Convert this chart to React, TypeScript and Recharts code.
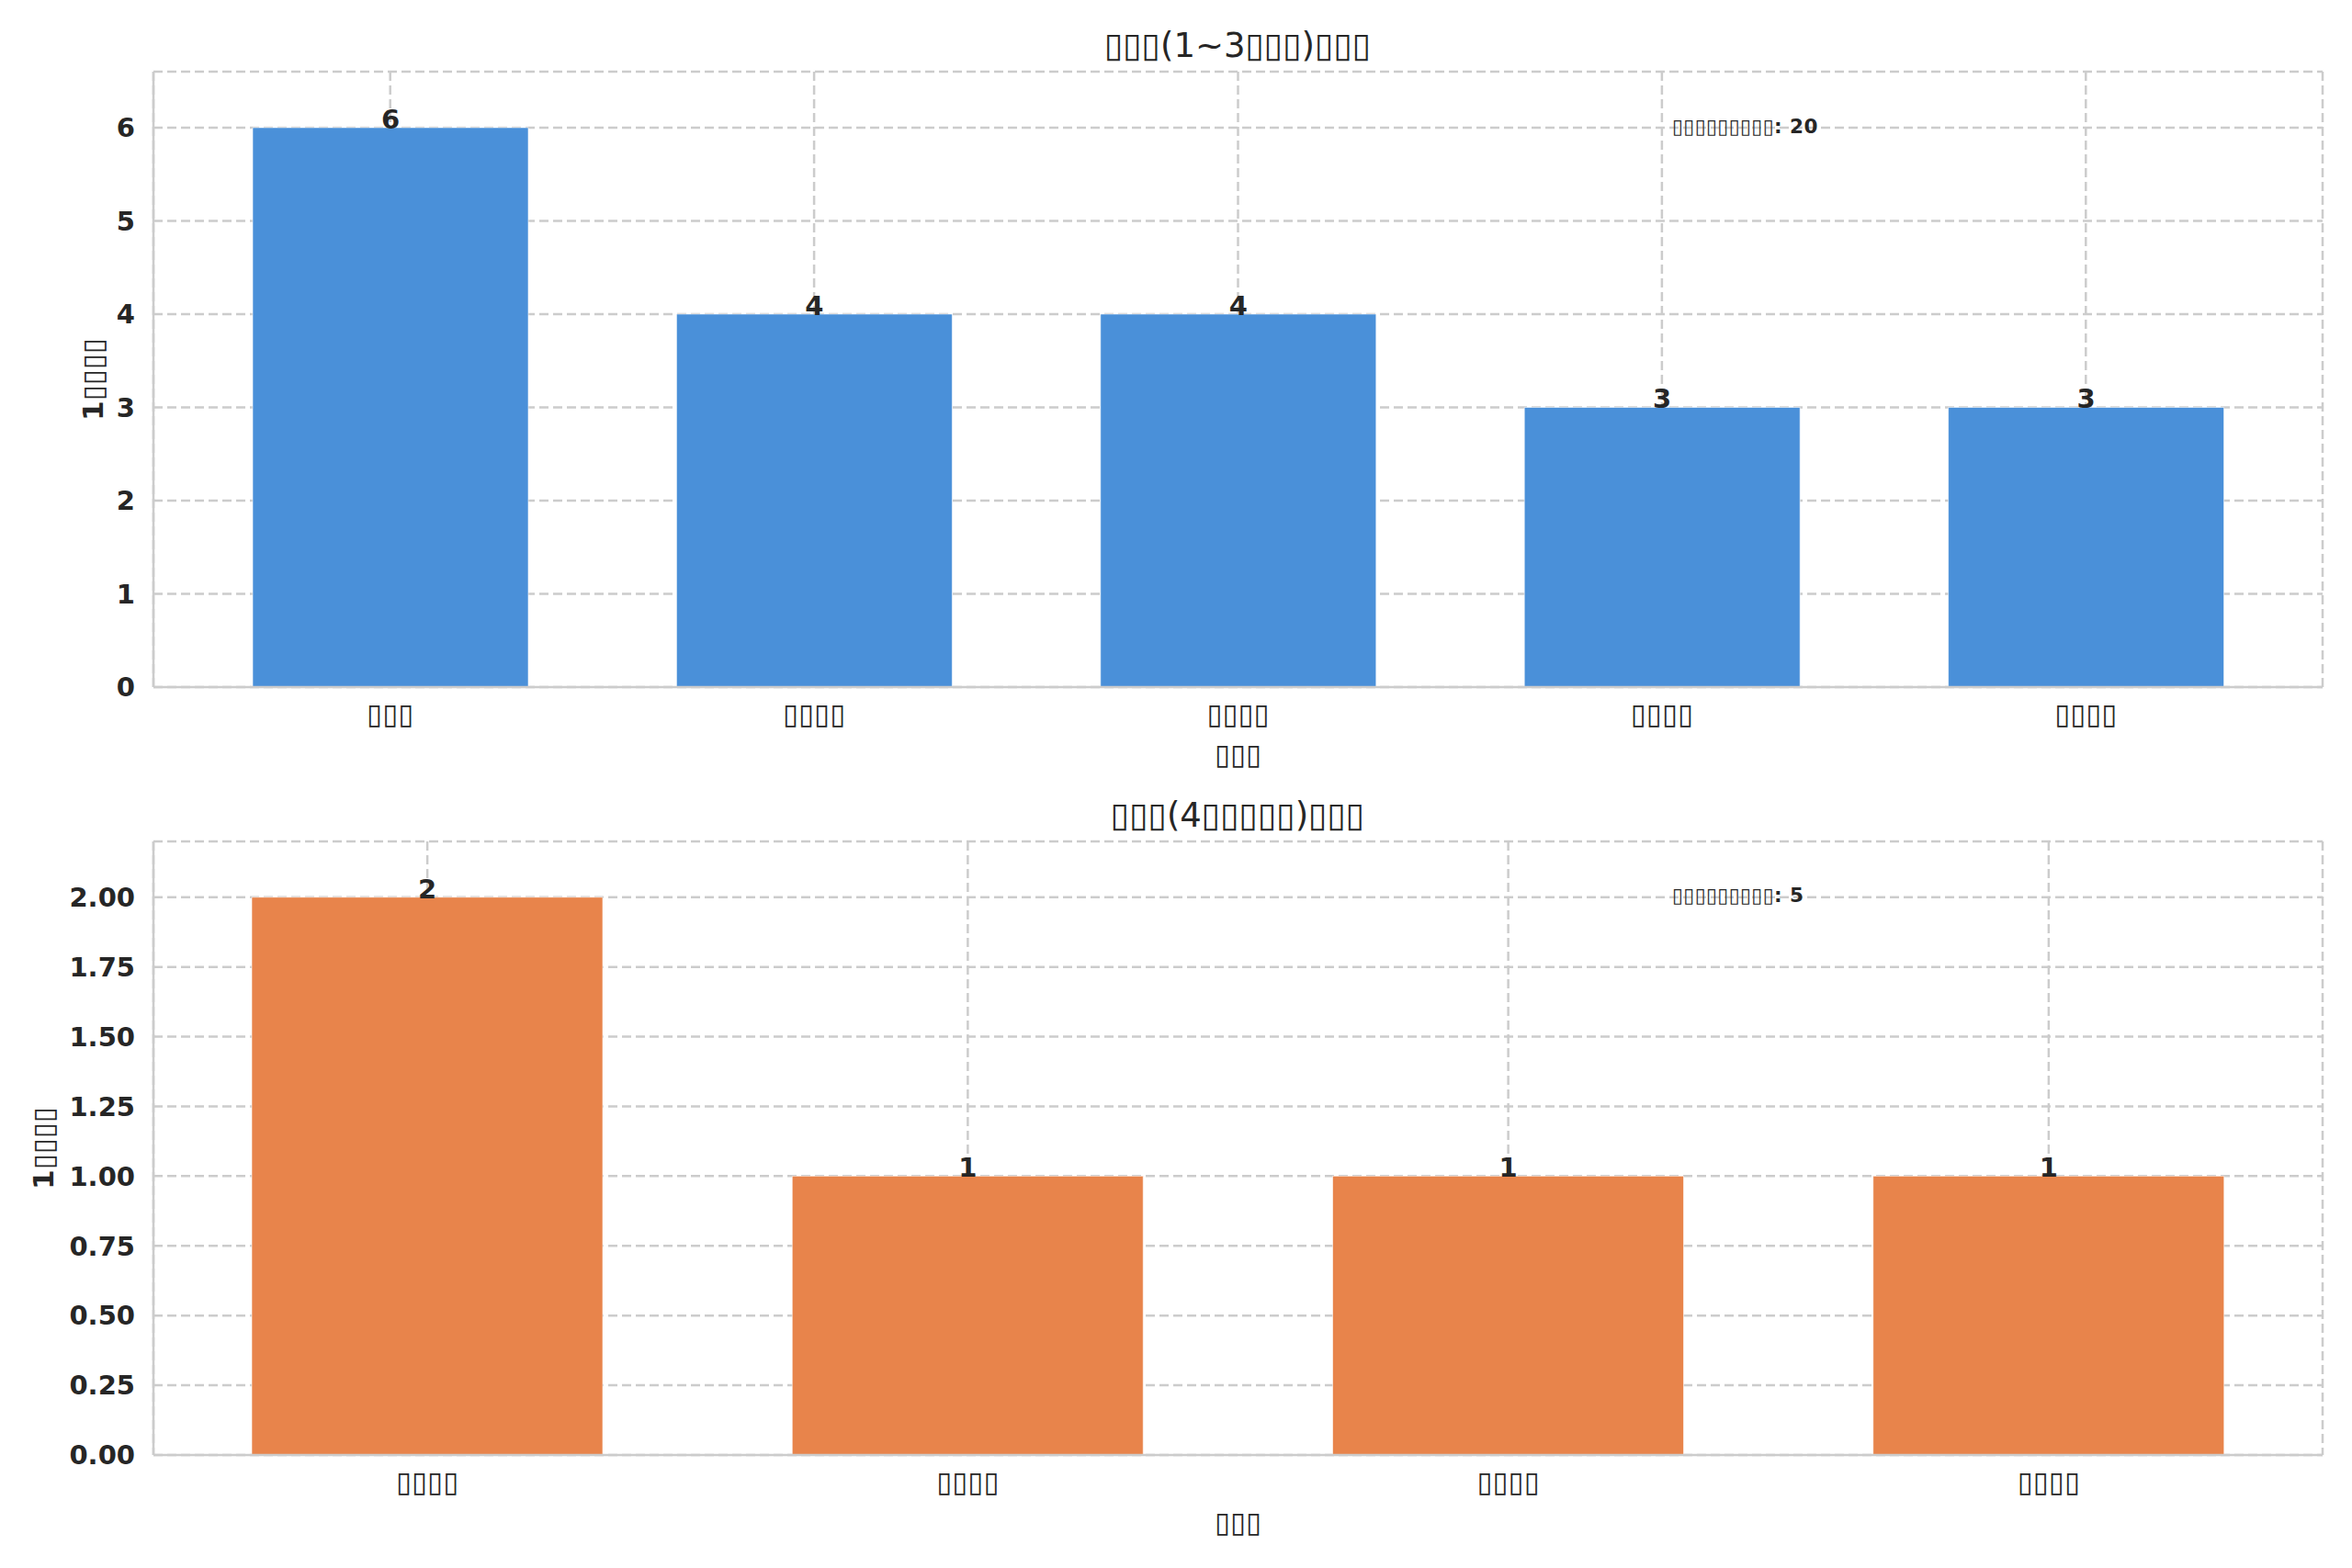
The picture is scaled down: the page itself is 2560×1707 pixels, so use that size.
import { BarChart, Bar, XAxis, YAxis, CartesianGrid, LabelList } from 'recharts';
import type { CSSProperties } from 'react';

// tofu boxes stand in for the glyphs the source could not render
const topCategories = ['▯▯▯', '▯▯▯▯', '▯▯▯▯', '▯▯▯▯', '▯▯▯▯'];
const topValues = [6, 4, 4, 3, 3];
const topTicks = [0, 1, 2, 3, 4, 5, 6];

const bottomCategories = ['▯▯▯▯', '▯▯▯▯', '▯▯▯▯', '▯▯▯▯'];
const bottomValues = [2, 1, 1, 1];
const bottomTicks = [0, 0.25, 0.5, 0.75, 1, 1.25, 1.5, 1.75, 2];

const topTitle = '▯▯▯(1~3▯▯▯)▯▯▯';
const bottomTitle = '▯▯▯(4▯▯▯▯▯)▯▯▯';
const xLabel = '▯▯▯';
const yLabel = '1▯▯▯▯';
const topNote = '▯▯▯▯▯▯▯▯▯: 20';
const bottomNote = '▯▯▯▯▯▯▯▯▯: 5';

const FONT = '"DejaVu Sans", sans-serif';
const TEXT = '#262626';
const GRID = '#cccccc';

const page: CSSProperties = {
  position: 'absolute',
  left: 0,
  top: 0,
  width: 2560,
  height: 1707,
  background: '#ffffff',
  fontFamily: FONT,
  color: TEXT,
};

const titleStyle: CSSProperties = {
  position: 'absolute',
  left: 1347,
  transform: 'translate(-50%, -50%)',
  fontSize: 37,
  whiteSpace: 'nowrap',
  lineHeight: 1,
};

const noteStyle: CSSProperties = {
  position: 'absolute',
  left: 1820,
  transform: 'translateY(-50%)',
  fontSize: 21.5,
  fontWeight: 700,
  whiteSpace: 'nowrap',
  lineHeight: 1,
  letterSpacing: 0.5,
};

const toRows = (cats: string[], vals: number[]) =>
  cats.map((c, i) => ({ id: i, name: c, value: vals[i] }));

interface PanelProps {
  cats: string[];
  vals: number[];
  ticks: number[];
  yMax: number;
  color: string;
  height: number;
  marginTop: number;
  axisHeight: number;
  padding: number;
  barSize: number;
  fmt: (v: number) => string;
  yLabelX: number;
}

function Panel(p: PanelProps) {
  const rows = toRows(p.cats, p.vals);
  const XTick = ({ x, y, payload }: any) => (
    <text x={x} y={y + 15} dy="0.75em" textAnchor="middle" fontSize={31} fontFamily={FONT} fill={TEXT}>
      {p.cats[payload.value]}
    </text>
  );
  return (
    <BarChart
      width={2560}
      height={p.height}
      data={rows}
      margin={{ top: p.marginTop, right: 32, left: 0, bottom: 0 }}
      barCategoryGap={0}
    >
      <CartesianGrid stroke={GRID} strokeWidth={2.5} strokeDasharray="10 5" />
      <XAxis
        dataKey="id"
        type="category"
        height={p.axisHeight}
        padding={{ left: p.padding, right: p.padding }}
        axisLine={{ stroke: GRID, strokeWidth: 2.5 }}
        tickLine={false}
        tickSize={0}
        tick={<XTick />}
        interval={0}
        label={{
          value: xLabel,
          position: 'insideBottom',
          offset: p.axisHeight - 84,
          style: { fontSize: 31, fontFamily: FONT, fill: TEXT },
        }}
      />
      <XAxis
        xAxisId="top"
        dataKey="id"
        orientation="top"
        height={0}
        tick={false}
        tickLine={false}
        axisLine={{ stroke: GRID, strokeWidth: 2.5 }}
      />
      <YAxis
        type="number"
        domain={[0, p.yMax]}
        ticks={p.ticks}
        width={167}
        axisLine={{ stroke: GRID, strokeWidth: 2.5 }}
        tickLine={false}
        tickSize={0}
        tickMargin={20}
        tickFormatter={p.fmt}
        tick={{ fontSize: 29, fontWeight: 700, fontFamily: FONT, fill: TEXT }}
        label={{
          content: ({ viewBox }: any) => (
            <text
              transform={`translate(${p.yLabelX}, ${viewBox.y + viewBox.height / 2}) rotate(-90)`}
              textAnchor="middle"
              dominantBaseline="central"
              fontSize={31}
              fontWeight={700}
              fontFamily={FONT}
              fill={TEXT}
            >
              {yLabel}
            </text>
          ),
        }}
      />
      <YAxis
        yAxisId="right"
        orientation="right"
        type="number"
        domain={[0, p.yMax]}
        width={0}
        tick={false}
        tickLine={false}
        axisLine={{ stroke: GRID, strokeWidth: 2.5 }}
      />
      <Bar dataKey="value" fill={p.color} barSize={p.barSize} stroke="#ffffff" strokeOpacity={0.6} strokeWidth={1} isAnimationActive={false}>
        <LabelList
          dataKey="value"
          position="top"
          offset={-1}
          style={{ fontSize: 29, fontWeight: 700, fontFamily: FONT, fill: TEXT }}
        />
      </Bar>
    </BarChart>
  );
}

export default function App() {
  return (
    <div style={page}>
      <div style={{ position: 'absolute', left: 0, top: 0 }}>
        <Panel
          cats={topCategories}
          vals={topValues}
          ticks={topTicks}
          yMax={6.6}
          color="#4a90d9"
          height={853}
          marginTop={78}
          axisHeight={105}
          padding={27}
          barSize={300}
          fmt={(v) => String(v)}
          yLabelX={101}
        />
      </div>
      <div style={{ position: 'absolute', left: 0, top: 853 }}>
        <Panel
          cats={bottomCategories}
          vals={bottomValues}
          ticks={bottomTicks}
          yMax={2.2}
          color="#e8844b"
          height={854}
          marginTop={63}
          axisHeight={123}
          padding={4}
          barSize={382}
          fmt={(v) => v.toFixed(2)}
          yLabelX={47}
        />
      </div>
      <div style={{ ...titleStyle, top: 49 }}>{topTitle}</div>
      <div style={{ ...titleStyle, top: 887 }}>{bottomTitle}</div>
      <div style={{ ...noteStyle, top: 138 }}>{topNote}</div>
      <div style={{ ...noteStyle, top: 975 }}>{bottomNote}</div>
    </div>
  );
}
